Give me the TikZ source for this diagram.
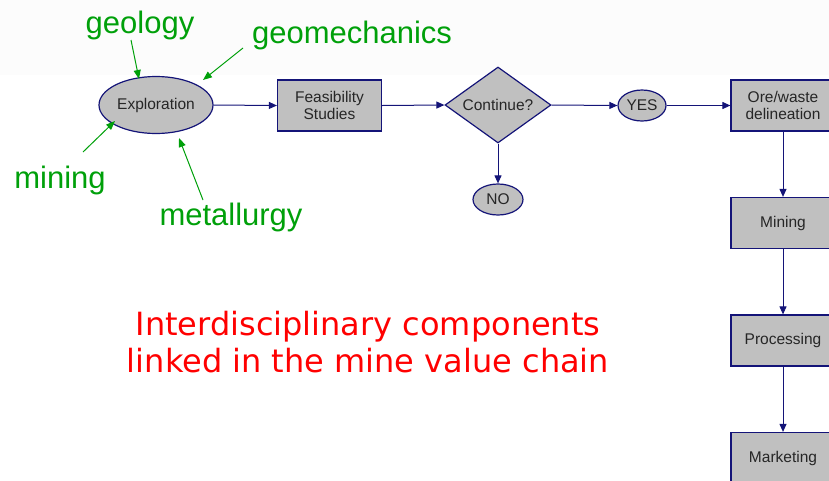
\documentclass[tikz,border=0pt]{standalone}
\usepackage{fontspec}
\setmainfont{Liberation Sans}
\newfontfamily\redfont{DejaVu Sans}
\usetikzlibrary{shapes.geometric,arrows.meta}
\definecolor{navyline}{RGB}{20,20,120}
\definecolor{boxgray}{RGB}{192,192,192}
\definecolor{labgreen}{RGB}{0,160,10}
\definecolor{bandgray}{RGB}{252,252,252}
\tikzset{
  nodetext/.style={font=\fontsize{15.5}{17.5}\selectfont, text=black!85, align=center},
  procbox/.style={nodetext, draw=navyline, fill=boxgray, line width=1.2pt, minimum width=104pt, minimum height=51pt, inner sep=0pt},
  oval/.style={nodetext, ellipse, draw=navyline, fill=boxgray, line width=1.2pt, inner sep=0pt},
  decision/.style={nodetext, diamond, draw=navyline, fill=boxgray, line width=1.2pt, minimum width=106pt, minimum height=76pt, inner sep=0pt, aspect=1.4},
  flow/.style={draw=navyline, line width=1pt, -{Triangle[length=8pt,width=7pt]}},
  glabel/.style={font=\fontsize{31}{35}\selectfont, text=labgreen, inner sep=0pt},
  garrow/.style={draw=labgreen, line width=1pt, -{Triangle[length=9pt,width=7pt]}},
}
\begin{document}
\begin{tikzpicture}[x=1pt,y=-1pt]
\useasboundingbox (0,0) rectangle (829,480);
\clip (0,0) rectangle (829,480);
\fill[bandgray] (0,0) rectangle (829,75);

\node[oval, minimum width=114pt, minimum height=57pt] (expl) at (156,105) {Exploration};
\node[procbox] (feas) at (329.5,105.5) {Feasibility\\Studies};
\node[decision] (cont) at (498,105) {Continue?};
\node[oval, minimum width=48pt, minimum height=31pt] (yes) at (642,105.5) {YES};
\node[oval, minimum width=50pt, minimum height=31pt] (no) at (498,199.5) {NO};
\node[procbox] (ore) at (783,105.5) {Ore/waste\\delineation};
\node[procbox] (mine) at (783,223) {Mining};
\node[procbox] (proc) at (783,340.5) {Processing};
\node[procbox] (mark) at (783,458) {Marketing};

\draw[flow] (expl.east) -- (feas.west);
\draw[flow] (feas.east) -- (cont.west);
\draw[flow] (cont.east) -- (yes.west);
\draw[flow] (yes.east) -- (ore.west);
\draw[flow] (cont.south) -- (no.north);
\draw[flow] (ore.south) -- (mine.north);
\draw[flow] (mine.south) -- (proc.north);
\draw[flow] (proc.south) -- (mark.north);

\node[glabel] (geo) at (140,25) {geology};
\node[glabel] (gmech) at (352,35) {geomechanics};
\node[glabel] (minl) at (60,180) {mining};
\node[glabel] (metl) at (231,217) {metallurgy};

\coordinate (geoS) at (131,40);
\coordinate (geoE) at (139,79);
\coordinate (gmS) at (243,48);
\coordinate (gmE) at (203,80);
\coordinate (miS) at (83,152);
\coordinate (miE) at (115,121);
\coordinate (meS) at (203,200);
\coordinate (meE) at (179,138);
\draw[garrow] (geoS) -- (geoE);
\draw[garrow] (gmS) -- (gmE);
\draw[garrow] (miS) -- (miE);
\draw[garrow] (meS) -- (meE);

\node[font=\redfont\fontsize{32}{37}\selectfont, text=red, align=center, inner sep=0pt] (title) at (368,342) {Interdisciplinary components\\linked in the mine value chain};
\end{tikzpicture}
\end{document}
